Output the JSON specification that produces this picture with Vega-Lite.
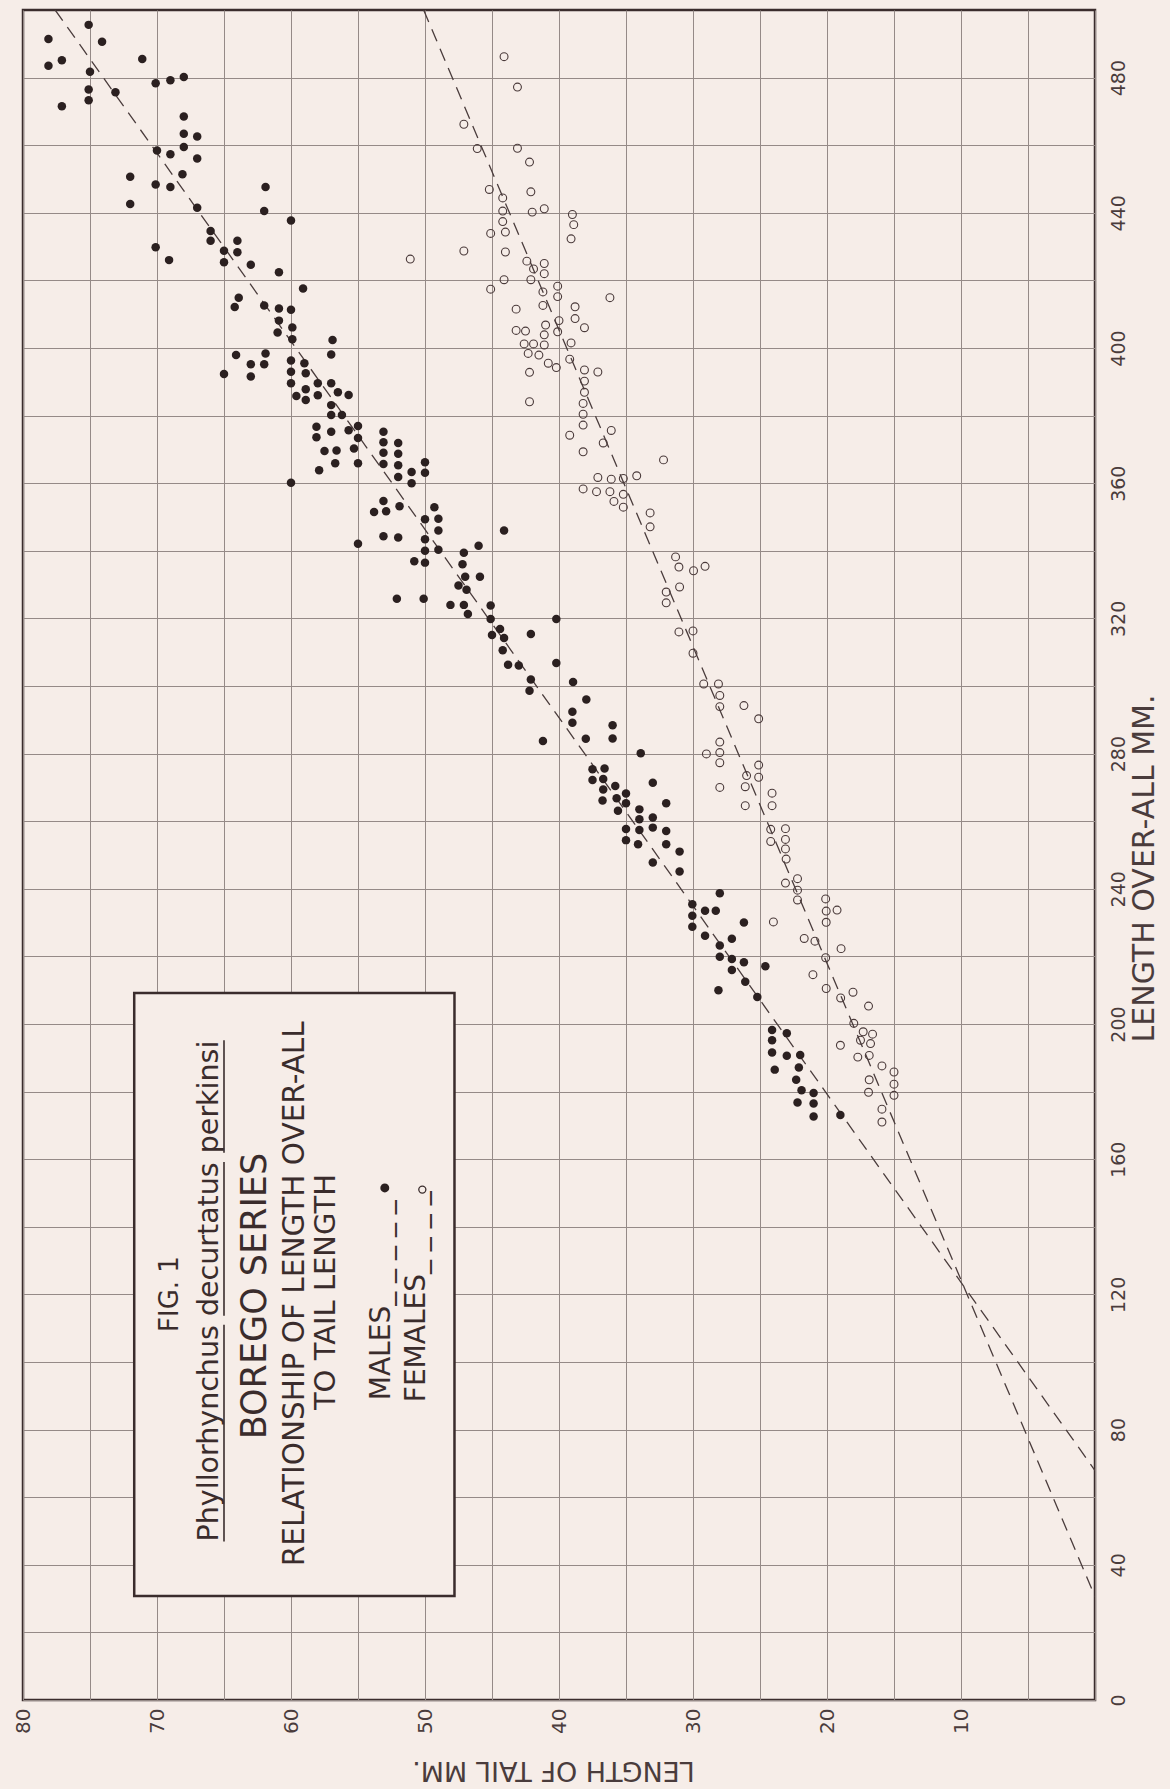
{
  "$schema": "https://vega.github.io/schema/vega-lite/v6.json",
  "width": 1072,
  "height": 1690,
  "autosize": "none",
  "padding": {"left": 23, "top": 10, "right": 75, "bottom": 89},
  "background": "#f6ede8",
  "config": {
    "view": {"stroke": "#3a2c2c", "strokeWidth": 2.5},
    "font": "DejaVu Sans"
  },
  "datasets": {
    "males": [
      {"tail":78.1,"length":491.4},{"tail":75.1,"length":495.6},{"tail":74.1,"length":490.6},{"tail":78.1,"length":483.5},{"tail":77.1,"length":485.1},
      {"tail":71.1,"length":485.5},{"tail":75.0,"length":481.7},{"tail":75.1,"length":476.5},{"tail":75.1,"length":473.3},{"tail":77.1,"length":471.5},
      {"tail":73.1,"length":475.7},{"tail":70.1,"length":478.3},{"tail":69.0,"length":479.2},{"tail":68.0,"length":480.2},{"tail":68.0,"length":468.5},
      {"tail":68.0,"length":463.4},{"tail":67.0,"length":462.6},{"tail":68.0,"length":459.5},{"tail":70.0,"length":458.4},{"tail":69.0,"length":457.3},
      {"tail":67.0,"length":456.1},{"tail":68.1,"length":451.4},{"tail":72.0,"length":450.7},{"tail":70.1,"length":448.4},{"tail":69.0,"length":447.6},
      {"tail":72.0,"length":442.6},{"tail":67.0,"length":441.5},{"tail":61.9,"length":447.6},{"tail":62.0,"length":440.5},{"tail":60.0,"length":437.7},
      {"tail":66.0,"length":434.6},{"tail":66.0,"length":431.7},{"tail":70.1,"length":429.8},{"tail":69.1,"length":426.0},{"tail":65.0,"length":428.8},
      {"tail":65.0,"length":425.4},{"tail":64.0,"length":431.7},{"tail":64.0,"length":428.3},{"tail":63.0,"length":424.6},{"tail":60.9,"length":422.4},
      {"tail":59.1,"length":417.6},{"tail":63.9,"length":414.9},{"tail":64.2,"length":412.1},{"tail":62.0,"length":412.6},{"tail":60.9,"length":411.7},
      {"tail":60.0,"length":411.3},{"tail":60.9,"length":408.1},{"tail":59.9,"length":406.1},{"tail":61.0,"length":404.6},{"tail":59.9,"length":402.6},
      {"tail":56.9,"length":402.4},{"tail":57.0,"length":398.1},{"tail":64.1,"length":397.9},{"tail":61.9,"length":398.4},{"tail":63.0,"length":395.2},
      {"tail":62.0,"length":395.2},{"tail":65.0,"length":392.3},{"tail":63.0,"length":391.6},{"tail":60.0,"length":396.3},{"tail":60.0,"length":393.0},
      {"tail":59.0,"length":395.5},{"tail":58.9,"length":392.5},{"tail":60.0,"length":389.6},{"tail":58.0,"length":389.6},{"tail":57.0,"length":389.6},
      {"tail":58.9,"length":387.8},{"tail":59.6,"length":385.8},{"tail":58.9,"length":384.6},{"tail":58.0,"length":386.0},{"tail":56.5,"length":386.9},
      {"tail":55.7,"length":386.1},{"tail":57.0,"length":383.1},{"tail":57.0,"length":380.2},{"tail":56.2,"length":380.2},
      {"tail":58.1,"length":376.7},{"tail":58.1,"length":373.6},{"tail":57.0,"length":375.2},{"tail":55.7,"length":375.7},{"tail":55.0,"length":376.9},
      {"tail":55.0,"length":373.4},{"tail":57.5,"length":369.5},{"tail":56.6,"length":369.7},{"tail":55.3,"length":370.3},{"tail":56.7,"length":365.9},
      {"tail":55.0,"length":365.9},{"tail":57.9,"length":363.8},{"tail":60.0,"length":360.1},{"tail":53.1,"length":375.2},{"tail":53.1,"length":372.1},
      {"tail":53.1,"length":369.0},{"tail":53.1,"length":365.7},{"tail":52.0,"length":371.9},{"tail":52.0,"length":368.7},{"tail":52.0,"length":365.3},
      {"tail":52.0,"length":361.8},{"tail":51.0,"length":363.3},{"tail":51.0,"length":360.0},{"tail":50.0,"length":366.2},{"tail":50.0,"length":363.1},
      {"tail":53.1,"length":354.7},{"tail":53.8,"length":351.5},{"tail":52.9,"length":351.7},{"tail":51.9,"length":353.2},{"tail":53.1,"length":344.3},
      {"tail":52.0,"length":343.9},{"tail":55.0,"length":342.1},{"tail":49.3,"length":352.9},{"tail":50.0,"length":349.3},{"tail":49.0,"length":349.5},
      {"tail":49.0,"length":346.0},{"tail":44.1,"length":346.0},{"tail":50.0,"length":343.4},{"tail":49.0,"length":340.3},{"tail":50.0,"length":340.0},
      {"tail":50.8,"length":336.9},{"tail":50.0,"length":336.5},{"tail":47.1,"length":339.4},{"tail":46.0,"length":341.5},{"tail":47.2,"length":336.0},
      {"tail":47.0,"length":332.3},{"tail":45.9,"length":332.3},{"tail":47.5,"length":329.7},{"tail":46.9,"length":328.5},{"tail":52.1,"length":325.8},
      {"tail":50.1,"length":325.8},{"tail":48.1,"length":324.0},{"tail":47.1,"length":324.0},{"tail":46.8,"length":321.3},{"tail":45.1,"length":323.8},
      {"tail":45.1,"length":319.8},{"tail":44.4,"length":316.9},{"tail":45.0,"length":315.1},{"tail":44.1,"length":314.2},{"tail":42.1,"length":315.4},
      {"tail":40.2,"length":319.8},{"tail":44.2,"length":310.6},{"tail":43.8,"length":306.3},{"tail":43.0,"length":306.1},{"tail":40.2,"length":306.8},
      {"tail":42.1,"length":301.9},{"tail":42.2,"length":298.6},{"tail":41.2,"length":283.7},
      {"tail":38.95,"length":301.2},{"tail":37.96,"length":296.0},{"tail":39.0,"length":292.4},{"tail":39.0,"length":289.1},{"tail":38.0,"length":284.4},
      {"tail":36.0,"length":288.4},{"tail":36.0,"length":284.5},{"tail":33.9,"length":280.1},{"tail":37.5,"length":275.4},{"tail":36.6,"length":275.6},
      {"tail":37.5,"length":272.2},{"tail":36.7,"length":272.5},{"tail":36.7,"length":269.4},{"tail":35.8,"length":270.4},{"tail":36.75,"length":266.1},
      {"tail":35.7,"length":266.8},{"tail":35.0,"length":268.2},{"tail":35.0,"length":265.3},{"tail":35.6,"length":263.1},{"tail":33.0,"length":271.4},
      {"tail":32.0,"length":265.3},{"tail":34.0,"length":263.5},{"tail":34.0,"length":260.6},{"tail":33.0,"length":261.1},{"tail":33.0,"length":258.1},
      {"tail":34.0,"length":257.4},{"tail":35.0,"length":257.7},{"tail":35.0,"length":254.4},{"tail":34.1,"length":253.2},{"tail":32.0,"length":257.1},
      {"tail":32.0,"length":253.2},{"tail":31.0,"length":251.0},{"tail":33.0,"length":247.8},{"tail":31.0,"length":245.1},{"tail":28.0,"length":238.7},
      {"tail":30.05,"length":235.4},{"tail":30.05,"length":232.0},{"tail":30.05,"length":228.8},{"tail":29.1,"length":233.5},{"tail":28.3,"length":233.5},
      {"tail":26.2,"length":230.0},{"tail":29.1,"length":226.1},{"tail":27.1,"length":225.2},{"tail":28.0,"length":223.2},{"tail":28.0,"length":219.9},
      {"tail":27.1,"length":219.2},{"tail":27.1,"length":216.0},{"tail":26.2,"length":218.3},{"tail":26.1,"length":212.5},{"tail":28.1,"length":210.0},
      {"tail":25.2,"length":208.0},
      {"tail":24.6,"length":217.1},{"tail":24.1,"length":198.2},{"tail":23.0,"length":197.3},{"tail":24.1,"length":195.2},{"tail":24.1,"length":191.6},
      {"tail":23.0,"length":190.6},{"tail":22.0,"length":190.8},{"tail":23.9,"length":186.5},{"tail":22.1,"length":187.1},{"tail":22.3,"length":183.5},
      {"tail":21.9,"length":180.4},{"tail":21.0,"length":179.6},{"tail":21.0,"length":176.5},{"tail":22.2,"length":176.8},{"tail":21.0,"length":172.6},
      {"tail":19.0,"length":173.1}
    ],
    "females": [
      {"tail":44.1,"length":486.2},{"tail":43.1,"length":477.2},{"tail":47.1,"length":466.2},{"tail":46.1,"length":459.0},{"tail":43.1,"length":459.1},
      {"tail":42.2,"length":455.0},{"tail":45.2,"length":446.9},{"tail":42.1,"length":446.2},{"tail":44.2,"length":444.4},{"tail":44.2,"length":440.5},
      {"tail":42.0,"length":440.2},{"tail":41.1,"length":441.2},{"tail":44.2,"length":437.4},{"tail":45.1,"length":433.9},{"tail":44.0,"length":434.3},
      {"tail":39.0,"length":439.5},{"tail":38.9,"length":436.5},{"tail":39.1,"length":432.3},{"tail":47.1,"length":428.7},{"tail":44.0,"length":428.4},
      {"tail":51.1,"length":426.3},{"tail":42.4,"length":425.7},{"tail":41.9,"length":423.4},{"tail":41.1,"length":425.0},{"tail":41.1,"length":422.0},
      {"tail":44.1,"length":420.2},{"tail":42.1,"length":420.2},{"tail":45.1,"length":417.4},{"tail":40.1,"length":418.3},{"tail":40.1,"length":415.2},
      {"tail":41.2,"length":416.6},{"tail":41.2,"length":412.6},{"tail":43.2,"length":411.5},{"tail":36.2,"length":414.9},{"tail":38.8,"length":412.2},
      {"tail":38.8,"length":408.7},{"tail":38.1,"length":406.0},{"tail":40.0,"length":408.1},{"tail":40.1,"length":404.8},{"tail":43.2,"length":405.2},
      {"tail":42.5,"length":405.0},{"tail":41.0,"length":406.8},{"tail":41.1,"length":403.9},{"tail":42.6,"length":401.2},{"tail":41.9,"length":401.2},
      {"tail":41.1,"length":400.9},{"tail":39.1,"length":401.5},{"tail":42.3,"length":398.4},{"tail":41.5,"length":397.9},{"tail":40.8,"length":395.5},
      {"tail":40.2,"length":394.2},{"tail":39.2,"length":396.7},{"tail":42.2,"length":392.8},{"tail":38.1,"length":393.5},{"tail":37.1,"length":392.9},
      {"tail":38.1,"length":390.2},{"tail":38.1,"length":386.9},{"tail":42.2,"length":384.1},{"tail":38.2,"length":383.6},{"tail":38.2,"length":380.4},
      {"tail":38.2,"length":377.2},{"tail":39.2,"length":374.2},{"tail":36.1,"length":375.6},{"tail":36.7,"length":371.9},{"tail":38.2,"length":369.3},
      {"tail":32.2,"length":366.9},{"tail":37.1,"length":361.7},{"tail":36.1,"length":361.2},{"tail":35.2,"length":361.4},{"tail":34.2,"length":362.2},
      {"tail":38.2,"length":358.3},{"tail":37.2,"length":357.5},{"tail":36.2,"length":357.5},{"tail":35.9,"length":354.6},{"tail":35.2,"length":356.7},
      {"tail":35.2,"length":352.9},{"tail":33.2,"length":351.2},{"tail":33.2,"length":347.1},{"tail":31.3,"length":338.2},
      {"tail":31.05,"length":335.2},{"tail":29.96,"length":334.1},{"tail":29.1,"length":335.4},{"tail":31.0,"length":329.3},{"tail":32.0,"length":327.8},
      {"tail":32.0,"length":324.6},{"tail":31.05,"length":316.0},{"tail":30.0,"length":316.3},{"tail":30.0,"length":309.7},{"tail":29.2,"length":300.6},
      {"tail":28.1,"length":300.6},{"tail":28.0,"length":297.2},{"tail":28.0,"length":293.9},{"tail":26.2,"length":294.2},{"tail":25.1,"length":290.3},
      {"tail":28.0,"length":283.4},{"tail":29.0,"length":279.9},{"tail":28.0,"length":280.3},{"tail":28.0,"length":277.3},{"tail":28.0,"length":270.0},
      {"tail":25.1,"length":276.6},{"tail":25.1,"length":273.0},{"tail":26.0,"length":273.5},{"tail":26.1,"length":270.2},{"tail":26.1,"length":264.6},
      {"tail":24.1,"length":268.3},{"tail":24.1,"length":264.6},{"tail":24.2,"length":257.6},{"tail":24.2,"length":254.0},{"tail":23.1,"length":257.8},
      {"tail":23.1,"length":254.6},{"tail":23.1,"length":251.8},{"tail":23.05,"length":248.8},{"tail":22.2,"length":243.0},{"tail":23.1,"length":241.7},
      {"tail":22.2,"length":239.6},{"tail":20.1,"length":237.0},{"tail":22.2,"length":236.7},
      {"tail":20.06,"length":233.4},{"tail":19.25,"length":233.7},{"tail":20.06,"length":230.1},{"tail":24.0,"length":230.2},{"tail":21.7,"length":225.3},
      {"tail":20.9,"length":224.5},{"tail":18.95,"length":222.3},{"tail":20.1,"length":219.6},{"tail":21.05,"length":214.6},{"tail":20.06,"length":210.5},
      {"tail":18.06,"length":209.4},{"tail":18.98,"length":207.7},{"tail":16.9,"length":205.3},{"tail":18.0,"length":200.2},{"tail":17.3,"length":197.7},
      {"tail":16.6,"length":197.0},{"tail":17.5,"length":195.2},{"tail":16.75,"length":194.2},{"tail":17.7,"length":190.2},{"tail":16.85,"length":190.7},
      {"tail":19.0,"length":193.7},{"tail":15.9,"length":187.6},{"tail":15.0,"length":185.8},{"tail":15.0,"length":182.2},{"tail":15.0,"length":178.9},
      {"tail":16.85,"length":183.5},{"tail":16.9,"length":179.8},{"tail":15.9,"length":174.8},{"tail":15.9,"length":171.0}
    ],
    "fits": [
      {"sex":"male","tail":77.6,"length":500},{"sex":"male","tail":0,"length":67.9},
      {"sex":"female","tail":50.1,"length":500},{"sex":"female","tail":0,"length":30.6}
    ]
  },
  "encoding": {
    "x": {
      "field": "tail", "type": "quantitative",
      "scale": {"domain": [0, 80], "reverse": true, "nice": false, "zero": false},
      "axis": {
        "orient": "bottom",
        "values": [0,5,10,15,20,25,30,35,40,45,50,55,60,65,70,75,80],
        "labelExpr": "datum.value % 10 == 0 && datum.value > 0 ? datum.label : ''",
        "labelAngle": 270, "labelAlign": "right", "labelBaseline": "middle",
        "labelPadding": 8, "labelFontSize": 20, "labelColor": "#4a3c3c", "labelFont": "DejaVu Sans",
        "labelFlush": false, "labelOverlap": false,
        "ticks": false, "domain": false,
        "grid": true, "gridColor": "#958a87", "gridWidth": 1,
        "title": "LENGTH OF TAIL MM.", "titleAngle": 180, "titleFontSize": 27, "titleFontWeight": "normal",
        "titleColor": "#4a3c3c", "titleFont": "DejaVu Sans",
        "titleX": 530, "titleY": 69, "titleAlign": "center", "titleBaseline": "middle"
      }
    },
    "y": {
      "field": "length", "type": "quantitative",
      "scale": {"domain": [0, 500], "nice": false, "zero": false},
      "axis": {
        "orient": "right",
        "values": [0,20,40,60,80,100,120,140,160,180,200,220,240,260,280,300,320,340,360,380,400,420,440,460,480],
        "labelExpr": "datum.value % 40 == 0 ? datum.label : ''",
        "labelAngle": 270, "labelAlign": "center", "labelBaseline": "top",
        "labelPadding": 14, "labelFontSize": 19, "labelColor": "#4a3c3c", "labelFont": "DejaVu Sans",
        "labelFlush": false, "labelOverlap": false,
        "ticks": false, "domain": false,
        "grid": true, "gridColor": "#958a87", "gridWidth": 1,
        "title": "LENGTH OVER-ALL MM.", "titleAngle": 270, "titleFontSize": 30, "titleFontWeight": "normal",
        "titleColor": "#4a3c3c", "titleFont": "DejaVu Sans",
        "titleX": 49, "titleY": 858, "titleAlign": "center", "titleBaseline": "middle"
      }
    }
  },
  "layer": [
    {
      "data": {"name": "fits"},
      "mark": {"type": "line", "stroke": "#4a3c3c", "strokeWidth": 1.3, "strokeDash": [13, 8], "clip": true},
      "encoding": {"detail": {"field": "sex"}}
    },
    {
      "data": {"name": "males"},
      "mark": {"type": "point", "shape": "circle", "filled": true, "fill": "#2b2020", "size": 72, "opacity": 1, "strokeWidth": 0}
    },
    {
      "data": {"name": "females"},
      "mark": {"type": "point", "shape": "circle", "filled": false, "stroke": "#4a3a3a", "strokeWidth": 1.1, "size": 62, "opacity": 1}
    },
    {
      "data": {"values": [{"tail": 71.7, "tail2": 47.8, "length": 209.2, "length2": 30.8}]},
      "mark": {"type": "rect", "fill": "#f6ede8", "stroke": "#3a2c2c", "strokeWidth": 2.5},
      "encoding": {"x2": {"field": "tail2"}, "y2": {"field": "length2"}}
    },
    {
      "data": {"values": [{"tail": 69.0, "length": 120.1, "label": "FIG. 1"}]},
      "mark": {"type": "text", "angle": 270, "align": "center", "baseline": "middle", "fontSize": 26, "font": "DejaVu Sans", "fill": "#3a2c2c"},
      "encoding": {"text": {"field": "label"}}
    },
    {
      "data": {"values": [{"tail": 66.1, "length": 121, "label": "Phyllorhynchus decurtatus perkinsi"}]},
      "mark": {"type": "text", "angle": 270, "align": "center", "baseline": "middle", "fontSize": 28.5, "font": "DejaVu Sans", "fill": "#3a2c2c"},
      "encoding": {"text": {"field": "label"}}
    },
    {
      "data": {"values": [
        {"tail": 65.0, "length": 46.9, "length2": 111.0},
        {"tail": 65.0, "length": 113.7, "length2": 159.2},
        {"tail": 65.0, "length": 161.9, "length2": 195.2}
      ]},
      "mark": {"type": "rule", "stroke": "#3a2c2c", "strokeWidth": 1.6},
      "encoding": {"y2": {"field": "length2"}}
    },
    {
      "data": {"values": [{"tail": 62.7, "length": 119.5, "label": "BOREGO SERIES"}]},
      "mark": {"type": "text", "angle": 270, "align": "center", "baseline": "middle", "fontSize": 35, "font": "DejaVu Sans", "fill": "#3a2c2c"},
      "encoding": {"text": {"field": "label"}}
    },
    {
      "data": {"values": [{"tail": 59.7, "length": 120.2, "label": "RELATIONSHIP OF LENGTH OVER-ALL"}]},
      "mark": {"type": "text", "angle": 270, "align": "center", "baseline": "middle", "fontSize": 29.5, "font": "DejaVu Sans", "fill": "#3a2c2c"},
      "encoding": {"text": {"field": "label"}}
    },
    {
      "data": {"values": [{"tail": 57.4, "length": 120.7, "label": "TO TAIL LENGTH"}]},
      "mark": {"type": "text", "angle": 270, "align": "center", "baseline": "middle", "fontSize": 29, "font": "DejaVu Sans", "fill": "#3a2c2c"},
      "encoding": {"text": {"field": "label"}}
    },
    {
      "data": {"values": [{"tail": 53.2, "length": 88.7, "label": "MALES_ _ _ _ _"}]},
      "mark": {"type": "text", "angle": 270, "align": "left", "baseline": "middle", "fontSize": 28, "font": "DejaVu Sans", "fill": "#3a2c2c"},
      "encoding": {"text": {"field": "label"}}
    },
    {
      "data": {"values": [{"tail": 50.6, "length": 88.1, "label": "FEMALES_ _ _ _"}]},
      "mark": {"type": "text", "angle": 270, "align": "left", "baseline": "middle", "fontSize": 28, "font": "DejaVu Sans", "fill": "#3a2c2c"},
      "encoding": {"text": {"field": "label"}}
    },
    {
      "data": {"values": [{"tail": 53.0, "length": 151.5}]},
      "mark": {"type": "point", "shape": "circle", "filled": true, "fill": "#2b2020", "size": 80, "opacity": 1, "strokeWidth": 0}
    },
    {
      "data": {"values": [{"tail": 50.2, "length": 151.0}]},
      "mark": {"type": "point", "shape": "circle", "filled": false, "stroke": "#3a2c2c", "strokeWidth": 1.3, "size": 50, "opacity": 1}
    }
  ]
}
